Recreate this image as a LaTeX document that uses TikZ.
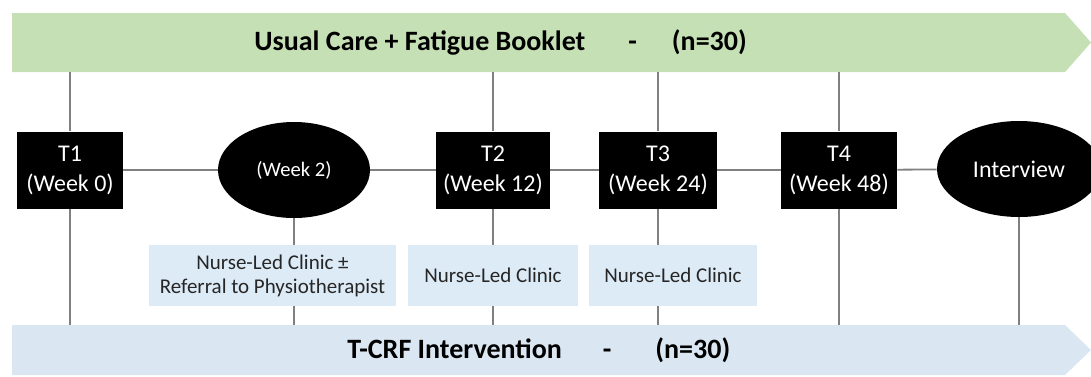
\documentclass[tikz,border=0pt]{standalone}
\usepackage{fontspec}
\setmainfont{Carlito}
\usepackage{tikz}
\usetikzlibrary{shapes.geometric}
\definecolor{careg}{HTML}{C5E0B4}
\definecolor{crfb}{HTML}{DAE6F2}
\definecolor{clinic}{HTML}{DDEBF7}
\definecolor{wire}{HTML}{808080}
\tikzset{
  banner/.style={font=\fontsize{14}{17}\selectfont\bfseries, inner sep=0pt, anchor=west},
  tbox/.style={fill=black, text=white, align=center, minimum height=38.5pt, inner sep=0pt, font=\fontsize{12}{15}\selectfont},
  visit/.style={ellipse, fill=black, text=white, inner sep=0pt, minimum height=48pt},
  clinicbox/.style={fill=clinic, text=black!85, align=center, minimum height=30.5pt, inner sep=0pt, font=\fontsize{10.5}{12}\selectfont},
  link/.style={draw=wire, line width=0.9pt},
}

\begin{document}
\begin{tikzpicture}[x=0.5pt, y=-0.5pt]
  \useasboundingbox (0,0) rectangle (1091,376);
  % the two arms
  \fill[careg] (12,13) -- (1065,13) -- (1091,42.5) -- (1065,72) -- (12,72) -- cycle;
  \fill[crfb] (12,325) -- (1065,325) -- (1091,350) -- (1065,375) -- (12,375) -- cycle;
  \coordinate (ucb) at (0,72);  % lower edge of top arm
  \coordinate (tct) at (0,325); % upper edge of bottom arm
  \node[banner] (usual) at (254,42) {Usual Care + Fatigue Booklet\hspace{21.5pt}-\hspace{17.5pt}(n=30)};
  \node[banner] (tcrf) at (347,350) {T-CRF Intervention\hspace{20.5pt}-\hspace{22pt}(n=30)};

  % time points
  \node[tbox, minimum width=53pt] (T1) at (70,170) {T1\\(Week 0)};
  \node[visit, minimum width=76pt, font=\fontsize{10.3}{12}\selectfont] (wk2) at (294,170) {(Week 2)};
  \node[tbox, minimum width=57pt] (T2) at (493,170) {T2\\(Week 12)};
  \node[tbox, minimum width=59pt] (T3) at (658,170) {T3\\(Week 24)};
  \node[tbox, minimum width=58pt] (T4) at (839,170) {T4\\(Week 48)};
  \node[visit, minimum width=82pt, font=\fontsize{12}{14}\selectfont] (intv) at (1019,169) {Interview};

  % clinics
  \node[clinicbox, minimum width=123.5pt] (nlc1) at (272.5,275.5) {Nurse-Led Clinic ±\\Referral to Physiotherapist};
  \node[clinicbox, minimum width=85pt] (nlc2) at (493,275.5) {Nurse-Led Clinic};
  \node[clinicbox, minimum width=84pt] (nlc3) at (673,275.5) {Nurse-Led Clinic};

  \foreach \a/\b in {T1/wk2, wk2/T2, T2/T3, T3/T4, T4/intv}
    \draw[link] (\a) -- (\b);
  \foreach \n in {T1,T2,T3,T4}
    \draw[link] (\n.north) -- (\n.north |- ucb);
  \foreach \n in {T1,T4,intv}
    \draw[link] (\n.south) -- (\n.south |- tct);
  \foreach \a/\b in {wk2/nlc1, T2/nlc2, T3/nlc3}{
    \draw[link] (\a.south) -- (\a.south |- \b.north);
    \draw[link] (\a.south |- \b.south) -- (\a.south |- tct);
  }
\end{tikzpicture}
\end{document}
